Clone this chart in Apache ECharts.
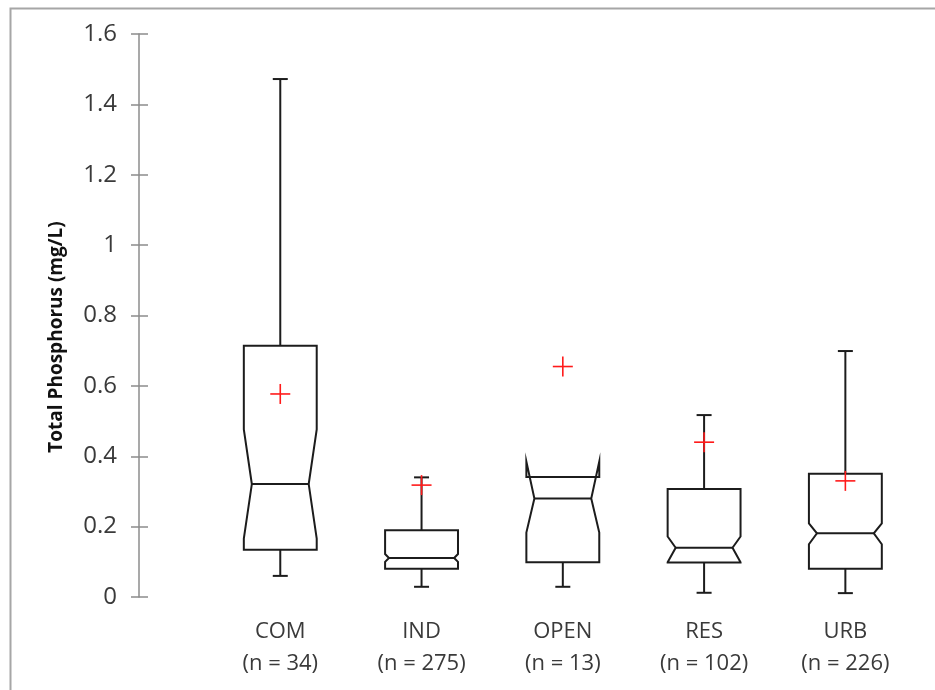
<!DOCTYPE html>
<html>
<head>
<meta charset="utf-8">
<script src="https://cdn.jsdelivr.net/npm/echarts@6/dist/echarts.min.js"></script>
<style>
  html, body { margin: 0; padding: 0; background: #fff; }
  #chart { width: 935px; height: 690px; }
</style>
</head>
<body>
<div id="chart"></div>
<script>
// Land-use categories and sample counts
const categories = ['COM', 'IND', 'OPEN', 'RES', 'URB'];
const sampleSizes = [34, 275, 13, 102, 226];

// Box statistics, total phosphorus (mg/L)
const minValues    = [0.060, 0.029, 0.029, 0.012, 0.011];
const q1Values     = [0.134, 0.080, 0.099, 0.098, 0.080];
const medianValues = [0.321, 0.111, 0.280, 0.140, 0.181];
const q3Values     = [0.714, 0.190, 0.341, 0.307, 0.350];
const maxValues    = [1.472, 0.340, 0.341, 0.517, 0.699];
const meanValues   = [0.577, 0.318, 0.655, 0.440, 0.330];

// Notch limits around the median
const notchLow  = [0.166, 0.100, 0.183, 0.099, 0.150];
const notchHigh = [0.476, 0.122, 0.385, 0.172, 0.209];

// Y axis ticks
const yMin = 0, yMax = 1.6, yStep = 0.2;

const boxData = categories.map((c, i) => [
  i + 1, minValues[i], q1Values[i], notchLow[i], medianValues[i],
  notchHigh[i], q3Values[i], maxValues[i], meanValues[i]
]);

const BOX_HALF = 0.258;   // half box width, in x units
const CAP_HALF = 7.5;     // half whisker cap width, px
const MEAN_HALF = 10;     // half size of the mean cross, px
const lineStyle = { stroke: '#1c1c1c', lineWidth: 2, fill: null };

function renderBox(params, api) {
  const x = api.value(0);
  const py = v => api.coord([x, v])[1];
  const L = api.coord([x - BOX_HALF, 0])[0];
  const R = api.coord([x + BOX_HALF, 0])[0];
  const C = api.coord([x, 0])[0];
  const yMinP = py(api.value(1)), yQ1 = py(api.value(2)), yNlo = py(api.value(3));
  const yMed = py(api.value(4)), yNhi = py(api.value(5)), yQ3 = py(api.value(6));
  const yMaxP = py(api.value(7)), yMean = py(api.value(8));
  const ind = Math.min(0.11 * (R - L), yMed - yNhi, yNlo - yMed);

  const children = [];
  children.push({
    type: 'polygon',
    shape: { points: [
      [L, yQ1], [L, yNlo], [L + ind, yMed], [L, yNhi], [L, yQ3],
      [R, yQ3], [R, yNhi], [R - ind, yMed], [R, yNlo], [R, yQ1]
    ] },
    style: lineStyle
  });
  children.push({ type: 'line', shape: { x1: L + ind, y1: yMed, x2: R - ind, y2: yMed }, style: lineStyle });
  // lower whisker
  children.push({ type: 'line', shape: { x1: C, y1: yQ1, x2: C, y2: yMinP }, style: lineStyle });
  children.push({ type: 'line', shape: { x1: C - CAP_HALF, y1: yMinP, x2: C + CAP_HALF, y2: yMinP }, style: lineStyle });
  // upper whisker
  if (api.value(7) > api.value(6)) {
    children.push({ type: 'line', shape: { x1: C, y1: yQ3, x2: C, y2: yMaxP }, style: lineStyle });
    children.push({ type: 'line', shape: { x1: C - CAP_HALF, y1: yMaxP, x2: C + CAP_HALF, y2: yMaxP }, style: lineStyle });
  }
  // mean marker
  const red = { stroke: '#ff1a1a', lineWidth: 1.6 };
  children.push({ type: 'line', shape: { x1: C - MEAN_HALF, y1: yMean, x2: C + MEAN_HALF, y2: yMean }, style: red });
  children.push({ type: 'line', shape: { x1: C, y1: yMean - MEAN_HALF, x2: C, y2: yMean + MEAN_HALF }, style: red });
  return { type: 'group', children };
}

const chart = echarts.init(document.getElementById('chart'), null, { renderer: 'canvas' });
const axisGray = '#8c8c8c';
const textGray = '#3a3a3a';
const font = 'Open Sans';

chart.setOption({
  animation: false,
  backgroundColor: '#fff',
  grid: { left: 139, right: 19, top: 34, bottom: 93 },
  xAxis: {
    type: 'value', min: 0, max: 5.5, interval: 1,
    axisLine: { show: false }, axisTick: { show: false }, splitLine: { show: false },
    axisLabel: {
      margin: 19, lineHeight: 32, fontSize: 22, fontFamily: font, color: textGray,
      showMaxLabel: false,
      formatter: v => {
        const i = Math.round(v) - 1;
        return (i >= 0 && i < categories.length) ? categories[i] + '\n(n = ' + sampleSizes[i] + ')' : '';
      }
    }
  },
  yAxis: [{
    type: 'value', min: yMin, max: yMax, interval: yStep, position: 'left',
    axisLine: { show: true, lineStyle: { color: axisGray, width: 1.5 } },
    axisTick: { show: true, inside: false, length: 8, lineStyle: { color: axisGray, width: 1.5 } },
    splitLine: { show: false },
    axisLabel: { margin: 22, fontSize: 24, fontFamily: font, color: textGray,
      formatter: v => String(Math.round(v * 10) / 10) }
  }, {
    type: 'value', min: yMin, max: yMax, interval: yStep, position: 'left',
    axisLine: { show: false },
    axisTick: { show: true, inside: true, length: 9, lineStyle: { color: axisGray, width: 1.5 } },
    splitLine: { show: false },
    axisLabel: { show: false }
  }],
  graphic: [{
    type: 'rect', left: 8, top: 6, z: -1, silent: true,
    shape: { width: 940, height: 700 },
    style: { fill: null, stroke: '#a6a6a6', lineWidth: 2 }
  }, {
    type: 'text', x: 57, y: 337, rotation: Math.PI / 2,
    style: {
      text: 'Total Phosphorus (mg/L)', fill: '#111',
      font: 'bold 19px "Open Sans"', align: 'center', verticalAlign: 'middle'
    }
  }],
  series: [{
    type: 'custom',
    renderItem: renderBox,
    clip: false,
    encode: { x: 0, y: [1, 2, 3, 4, 5, 6, 7, 8] },
    data: boxData
  }]
});
</script>
</body>
</html>
